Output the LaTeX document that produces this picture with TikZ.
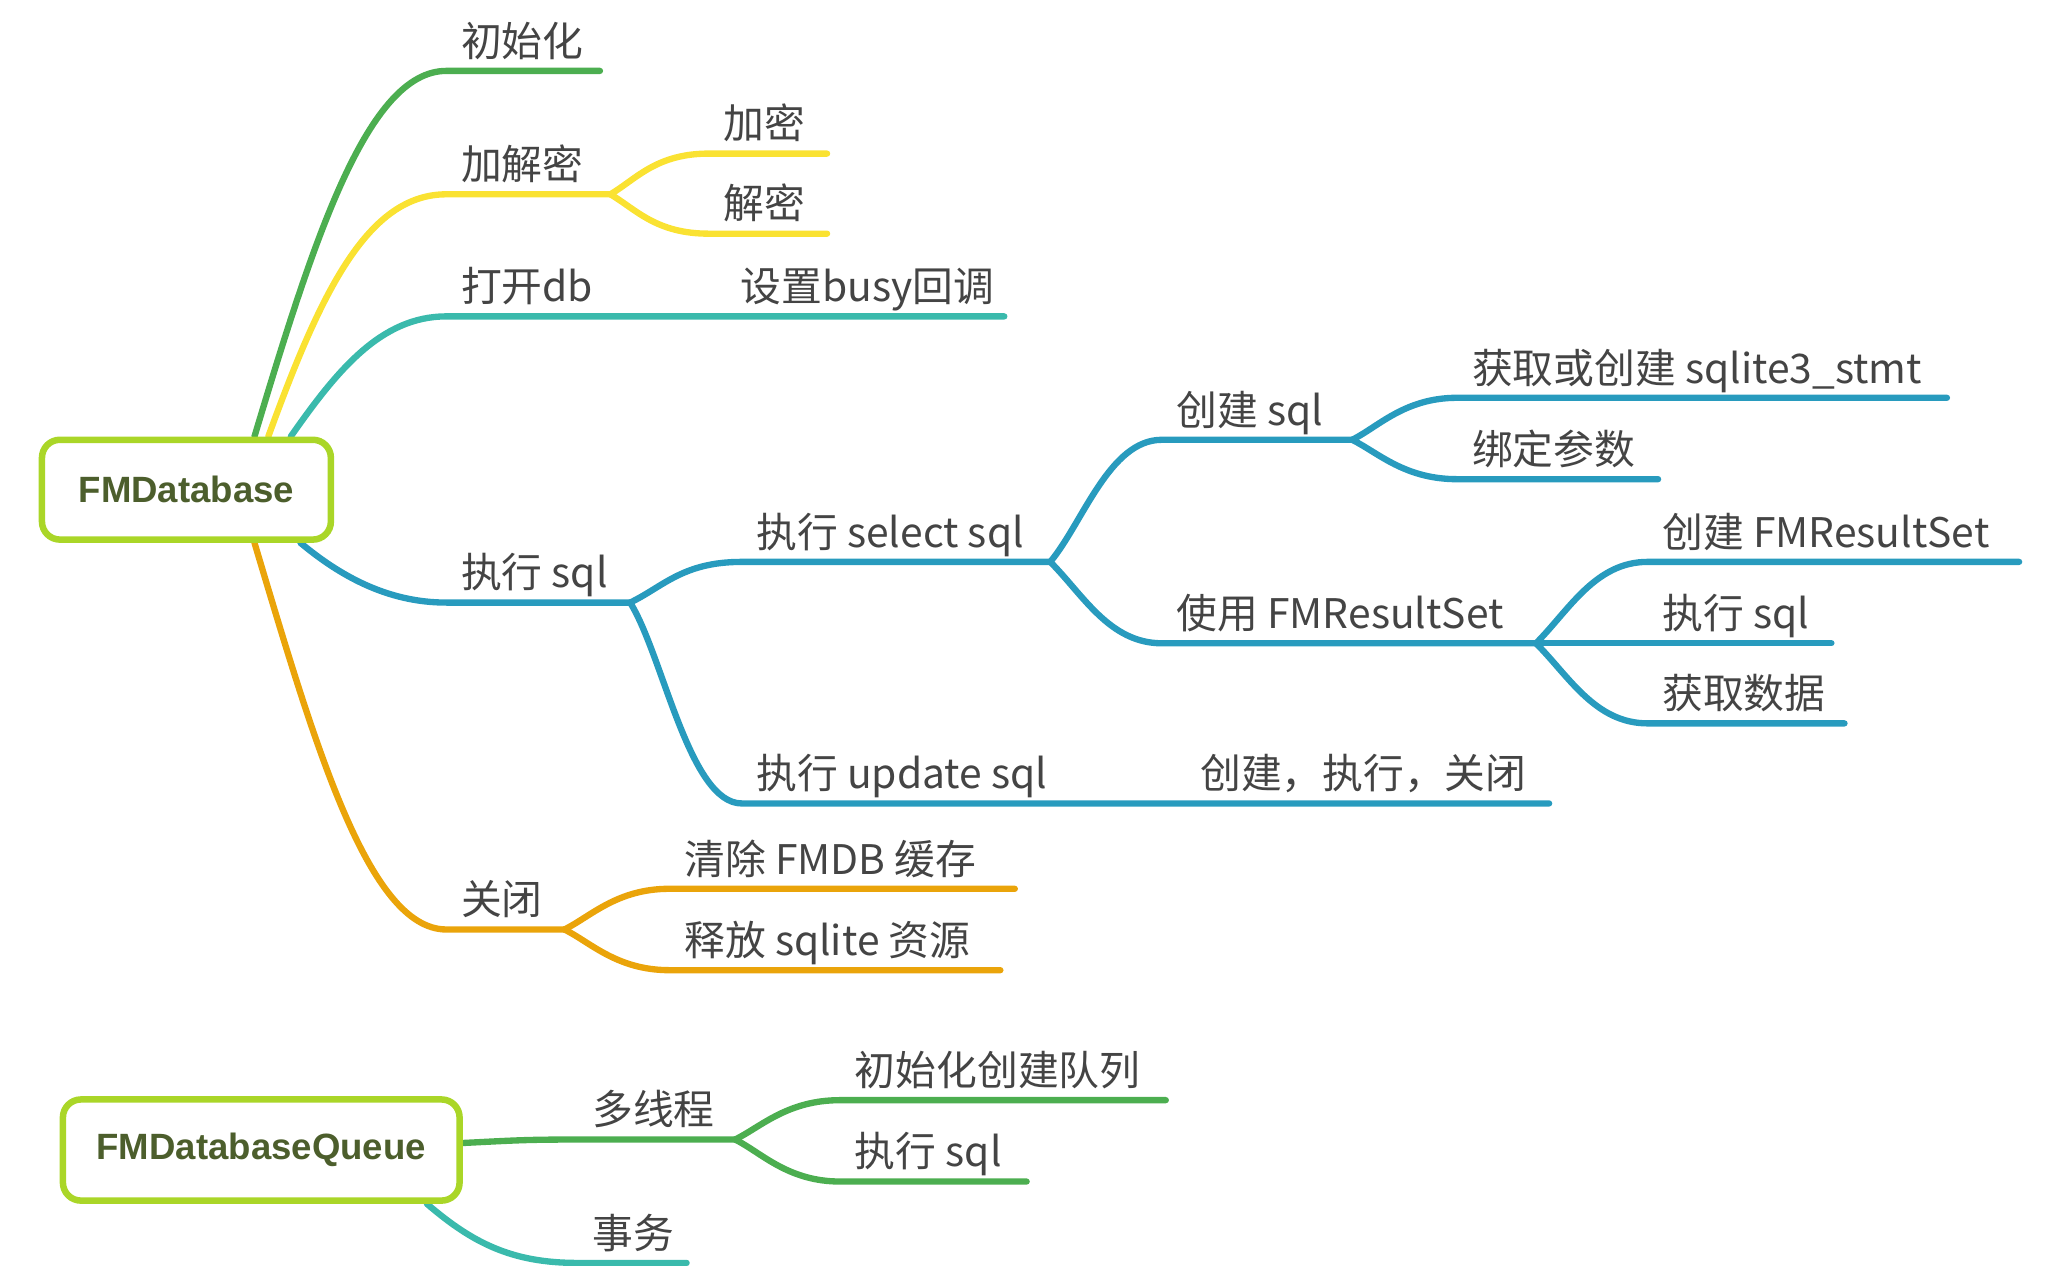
\documentclass[tikz,border=0pt]{standalone}
\usepackage{fontspec}
\setmainfont{Noto Sans CJK SC}
\newfontfamily\rootfont{Liberation Sans}
\usepackage{tikz}
\usetikzlibrary{backgrounds}
\definecolor{rootedge}{RGB}{170,214,40}
\definecolor{roottext}{RGB}{76,94,44}
\definecolor{cgreen}{RGB}{76,174,80}
\definecolor{cyellow}{RGB}{250,226,50}
\definecolor{cteal}{RGB}{58,186,172}
\definecolor{cblue}{RGB}{40,155,190}
\definecolor{corange}{RGB}{234,164,10}
\definecolor{ctext}{RGB}{68,68,68}
\begin{document}
\begin{tikzpicture}
[x=0.013128cm,y=-0.013128cm,
 root/.style={draw=rootedge,line width=1.85pt,rounded corners=0.18cm,fill=white,text=roottext,font=\rootfont\bfseries\fontsize{10.4}{12}\selectfont},
 lbl/.style={anchor=base west,inner sep=0pt,xshift=4pt,yshift=4.2pt,text=ctext,font=\fontsize{11.6}{14}\selectfont},
 br/.style={line width=1.8pt,line cap=round}]
\useasboundingbox (0,0) rectangle (1560,964);

% FMDatabase
\node[root,minimum width=2.888cm,minimum height=0.998cm] (db) at (142,373) {FMDatabase};

\coordinate (init0) at (340,54);    \coordinate (init1) at (457,54);
\coordinate (crypt0) at (340,148);  \coordinate (crypt1) at (465,148);
\coordinate (enc0) at (540,117);    \coordinate (enc1) at (630,117);
\coordinate (dec0) at (540,178);    \coordinate (dec1) at (630,178);
\coordinate (open0) at (340,241);   \coordinate (busy0) at (553,241); \coordinate (busy1) at (765,241);
\coordinate (exec0) at (340,459);   \coordinate (exec1) at (480,459);
\coordinate (sel0) at (565,428);    \coordinate (sel1) at (800,428);
\coordinate (mk0) at (885,335);     \coordinate (mk1) at (1030,335);
\coordinate (stmt0) at (1110,303);  \coordinate (stmt1) at (1483,303);
\coordinate (bind0) at (1110,365);  \coordinate (bind1) at (1263,365);
\coordinate (use0) at (885,490);    \coordinate (use1) at (1170,490);
\coordinate (rsnew0) at (1255,428); \coordinate (rsnew1) at (1538,428);
\coordinate (rsexec0) at (1255,490);\coordinate (rsexec1) at (1395,490);
\coordinate (rsget0) at (1255,551); \coordinate (rsget1) at (1405,551);
\coordinate (upd0) at (565,612);    \coordinate (cec0) at (903,612); \coordinate (cec1) at (1180,612);
\coordinate (close0) at (340,708);  \coordinate (close1) at (430,708);
\coordinate (cache0) at (510,677);  \coordinate (cache1) at (773,677);
\coordinate (free0) at (510,739);   \coordinate (free1) at (762,739);

\node[lbl] (init) at (init0) {初始化};
\node[lbl] (crypt) at (crypt0) {加解密};
\node[lbl] (enc) at (enc0) {加密};
\node[lbl] (dec) at (dec0) {解密};
\node[lbl] (open) at (open0) {打开db};
\node[lbl] (busy) at (busy0) {设置busy回调};
\node[lbl] (exec) at (exec0) {执行 sql};
\node[lbl] (sel) at (sel0) {执行 select sql};
\node[lbl] (mk) at (mk0) {创建 sql};
\node[lbl] (stmt) at (stmt0) {获取或创建 sqlite3\_stmt};
\node[lbl] (bind) at (bind0) {绑定参数};
\node[lbl] (use) at (use0) {使用 FMResultSet};
\node[lbl] (rsnew) at (rsnew0) {创建 FMResultSet};
\node[lbl] (rsexec) at (rsexec0) {执行 sql};
\node[lbl] (rsget) at (rsget0) {获取数据};
\node[lbl] (upd) at (upd0) {执行 update sql};
\node[lbl] (cec) at (cec0) {创建，执行，关闭};
\node[lbl] (close) at (close0) {关闭};
\node[lbl] (cache) at (cache0) {清除 FMDB 缓存};
\node[lbl] (free) at (free0) {释放 sqlite 资源};

% FMDatabaseQueue
\node[root,minimum width=3.965cm,minimum height=1.011cm] (queue) at (199,876) {FMDatabaseQueue};

\coordinate (mt0) at (440,868);     \coordinate (mt1) at (560,868);
\coordinate (qnew0) at (640,838);   \coordinate (qnew1) at (888,838);
\coordinate (qsql0) at (640,900);   \coordinate (qsql1) at (782,900);
\coordinate (tx0) at (440,962);     \coordinate (tx1) at (523,962);

\node[lbl] (mt) at (mt0) {多线程};
\node[lbl] (qnew) at (qnew0) {初始化创建队列};
\node[lbl] (qsql) at (qsql0) {执行 sql};
\node[lbl] (tx) at (tx0) {事务};

\begin{scope}[on background layer]
\draw[br,cgreen] (db.38) .. controls +(45,-150) and +(-60,0) .. (init0) -- (init1);
\draw[br,cyellow] (db.33) .. controls +(40,-110) and +(-60,0) .. (crypt0) -- (crypt1);
\draw[br,cyellow] (crypt1) .. controls +(20,-12) and +(-40,0) .. (enc0) -- (enc1);
\draw[br,cyellow] (crypt1) .. controls +(20,12) and +(-40,0) .. (dec0) -- (dec1);
\draw[br,cteal] (db.27) .. controls +(35,-50) and +(-50,0) .. (open0) -- (busy0) -- (busy1);
\draw[br,cblue] (db.-25) .. controls +(30,25) and +(-45,0) .. (exec0) -- (exec1);
\draw[br,cblue] (exec1) .. controls +(25,-12) and +(-45,0) .. (sel0) -- (sel1);
\draw[br,cblue] (exec1) .. controls +(25,40) and +(-40,0) .. (upd0) -- (cec0) -- (cec1);
\draw[br,cblue] (sel1) .. controls +(25,-30) and +(-40,0) .. (mk0) -- (mk1);
\draw[br,cblue] (sel1) .. controls +(25,25) and +(-40,0) .. (use0) -- (use1);
\draw[br,cblue] (mk1) .. controls +(20,-10) and +(-40,0) .. (stmt0) -- (stmt1);
\draw[br,cblue] (mk1) .. controls +(20,10) and +(-40,0) .. (bind0) -- (bind1);
\draw[br,cblue] (use1) .. controls +(25,-25) and +(-40,0) .. (rsnew0) -- (rsnew1);
\draw[br,cblue] (use1) -- (rsexec0) -- (rsexec1);
\draw[br,cblue] (use1) .. controls +(25,25) and +(-40,0) .. (rsget0) -- (rsget1);
\draw[br,corange] (db.-38) .. controls +(45,150) and +(-60,0) .. (close0) -- (close1);
\draw[br,corange] (close1) .. controls +(20,-10) and +(-40,0) .. (cache0) -- (cache1);
\draw[br,corange] (close1) .. controls +(20,10) and +(-40,0) .. (free0) -- (free1);
\draw[br,cgreen] (queue.2) .. controls +(40,-2) and +(-40,0) .. (mt0) -- (mt1);
\draw[br,cgreen] (mt1) .. controls +(20,-10) and +(-40,0) .. (qnew0) -- (qnew1);
\draw[br,cgreen] (mt1) .. controls +(20,10) and +(-40,0) .. (qsql0) -- (qsql1);
\draw[br,cteal] (queue.-18) .. controls +(35,30) and +(-50,0) .. (tx0) -- (tx1);
\end{scope}
\end{tikzpicture}
\end{document}
